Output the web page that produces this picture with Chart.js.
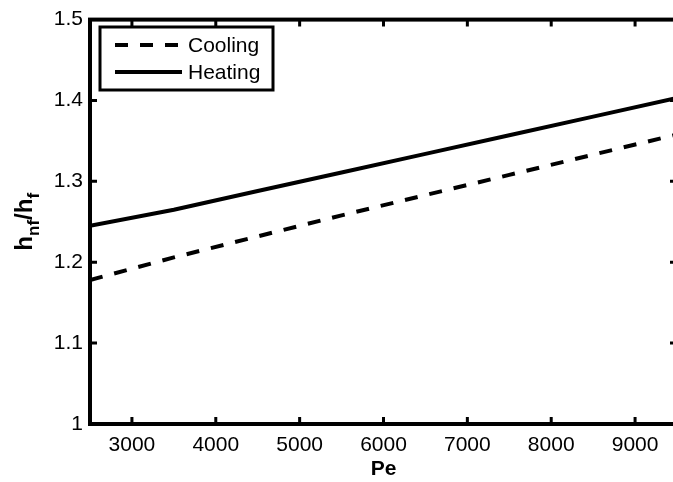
<!DOCTYPE html>
<html>
<head>
<meta charset="utf-8">
<script src="https://cdn.jsdelivr.net/npm/chart.js@4.4.0/dist/chart.umd.min.js"></script>
<style>
  html, body { margin: 0; padding: 0; overflow: hidden; background: #fff; }
  #wrap { width: 681px; height: 482px; }
</style>
</head>
<body>
<div id="wrap"><canvas id="myChart"></canvas></div>
<script>
'use strict'
// values
let pe = [2500, 3500, 4500, 5500, 6500, 7500, 8500, 9500];
let cooling = [1.178, 1.206, 1.232, 1.258, 1.283, 1.308, 1.333, 1.358];
let heating = [1.245, 1.265, 1.288, 1.311, 1.334, 1.357, 1.380, 1.403];
let xTicks = [3000, 4000, 5000, 6000, 7000, 8000, 9000];
let yTicks = [1, 1.1, 1.2, 1.3, 1.4, 1.5];

const FONT = 'Liberation Sans, Arial, Helvetica, sans-serif';

function toPoints(xs, ys){
    return xs.map((x, i) => ({x: x, y: ys[i]}));
}

// frame, inward ticks, legend box and y title with subscripts
const decorations = {
    id: 'decorations',
    afterDatasetsDraw(chart){
        const ctx = chart.ctx;
        const a = chart.chartArea;
        const xs = chart.scales.x;
        const ys = chart.scales.y;
        ctx.save();
        ctx.strokeStyle = '#000';
        ctx.setLineDash([]);

        // inward ticks
        ctx.lineWidth = 3;
        ctx.beginPath();
        xTicks.forEach(v => {
            const px = xs.getPixelForValue(v);
            ctx.moveTo(px, a.bottom); ctx.lineTo(px, a.bottom - 7);
            ctx.moveTo(px, a.top); ctx.lineTo(px, a.top + 7);
        });
        yTicks.forEach(v => {
            const py = ys.getPixelForValue(v);
            ctx.moveTo(a.left, py); ctx.lineTo(a.left + 7, py);
            ctx.moveTo(a.right, py); ctx.lineTo(a.right - 7, py);
        });
        ctx.stroke();

        // frame
        ctx.lineWidth = 4;
        ctx.strokeRect(a.left, a.top, a.right - a.left, a.bottom - a.top);

        // legend
        ctx.fillStyle = '#fff';
        ctx.fillRect(100, 27, 173, 63);
        ctx.lineWidth = 3;
        ctx.strokeRect(100, 27, 173, 63);
        ctx.font = '21px ' + FONT;
        ctx.textBaseline = 'middle';
        ctx.textAlign = 'left';
        ctx.fillStyle = '#000';
        chart.data.datasets.forEach((ds, i) => {
            const y = 45 + i * 27;
            ctx.lineWidth = ds.borderWidth;
            ctx.setLineDash(ds.borderDash || []);
            ctx.beginPath();
            ctx.moveTo(115, y); ctx.lineTo(182, y);
            ctx.stroke();
            ctx.fillText(ds.label, 188, y + 1);
        });
        ctx.setLineDash([]);

        // y title: h_nf/h_f
        const parts = [
            {t: 'h', size: 24, dy: 0},
            {t: 'nf', size: 17, dy: 7},
            {t: '/h', size: 24, dy: 0},
            {t: 'f', size: 17, dy: 7}
        ];
        let total = 0;
        parts.forEach(p => {
            ctx.font = 'bold ' + p.size + 'px ' + FONT;
            p.w = ctx.measureText(p.t).width;
            total += p.w;
        });
        ctx.translate(32, (a.top + a.bottom) / 2);
        ctx.rotate(-Math.PI / 2);
        ctx.textBaseline = 'alphabetic';
        let x = -total / 2;
        parts.forEach(p => {
            ctx.font = 'bold ' + p.size + 'px ' + FONT;
            ctx.fillText(p.t, x, p.dy);
            x += p.w;
        });
        ctx.restore();
    }
};

const config = {
    type: 'line',
    data: {
        datasets: [{
            label: 'Cooling',
            data: toPoints(pe, cooling),
            borderColor: '#000',
            borderWidth: 4,
            borderDash: [13, 12],
            pointRadius: 0,
            tension: 0,
            fill: false
        }, {
            label: 'Heating',
            data: toPoints(pe, heating),
            borderColor: '#000',
            borderWidth: 4,
            pointRadius: 0,
            tension: 0,
            fill: false
        }]
    },
    options: {
        responsive: true,
        maintainAspectRatio: false,
        animation: false,
        layout: { padding: { top: 15, right: 4, left: 0, bottom: 0 } },
        plugins: {
            legend: { display: false },
            tooltip: { enabled: false }
        },
        scales: {
            x: {
                type: 'linear',
                min: 2500,
                max: 9500,
                grid: { display: false, drawTicks: false },
                border: { display: false },
                afterBuildTicks: function(scale){
                    scale.ticks = xTicks.map(v => ({value: v}));
                },
                ticks: {
                    padding: 9,
                    color: '#000',
                    font: { family: FONT, size: 21 },
                    maxRotation: 0,
                    autoSkip: false,
                    callback: v => String(v)
                },
                title: {
                    display: true,
                    text: 'Pe',
                    color: '#000',
                    font: { family: FONT, size: 21, weight: 'bold' },
                    padding: { top: 0, bottom: 0 }
                },
                afterFit: function(scale){
                    scale.height = 58;
                    scale.paddingRight = 0;
                    scale.paddingLeft = 0;
                }
            },
            y: {
                min: 1,
                max: 1.5,
                grid: { display: false, drawTicks: false },
                border: { display: false },
                afterBuildTicks: function(scale){
                    scale.ticks = yTicks.map(v => ({value: v}));
                },
                ticks: {
                    padding: 7,
                    color: '#000',
                    font: { family: FONT, size: 21 },
                    callback: v => String(v)
                },
                afterFit: function(scale){ scale.width = 90; }
            }
        }
    },
    plugins: [decorations]
};

let myChart = new Chart(document.getElementById('myChart'), config);
</script>
</body>
</html>
